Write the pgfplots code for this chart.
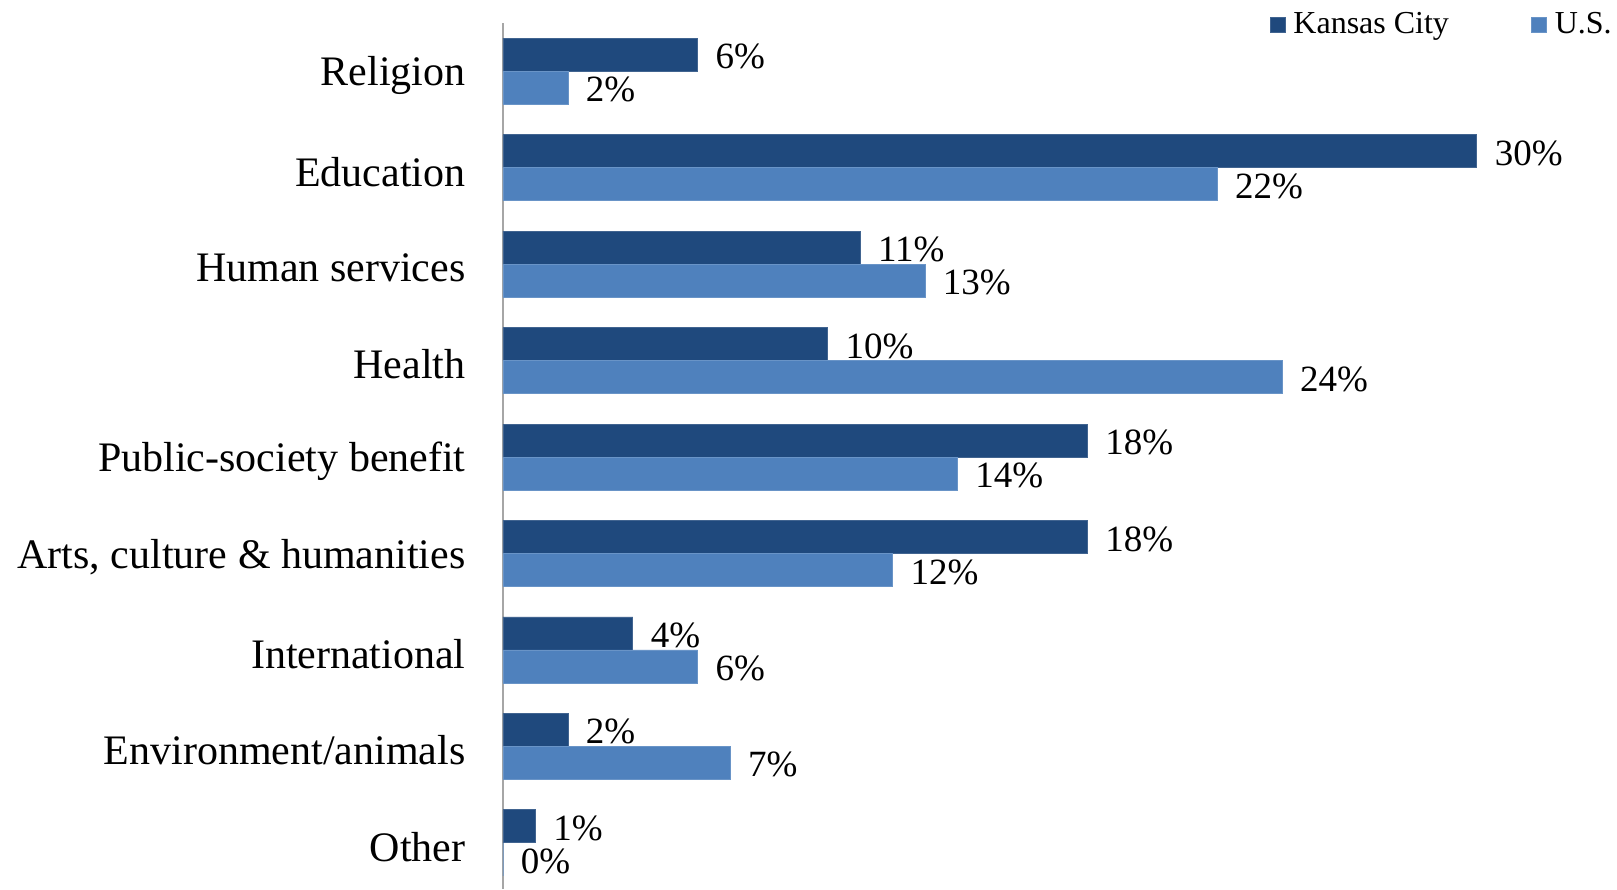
\documentclass[border=0pt]{standalone}
\usepackage{pgfplots}
\pgfplotsset{compat=1.18}
\usepackage{fontspec}
\setmainfont{Liberation Serif}
\definecolor{kcblue}{HTML}{1F497D}
\definecolor{usblue}{HTML}{4F81BD}
\definecolor{axisgray}{HTML}{A6A6A6}

\begin{document}
\begin{tikzpicture}
 \begin{axis}[
   name=ax,
   scale only axis,
   width=557pt, height=433pt,
   xbar, bar width=16.5pt,
   xmin=0, xmax=34.32,
   ymin=-0.479, ymax=8.5,
   axis x line=none,
   axis y line*=left,
   axis line style={axisgray, line width=1pt},
   ytick={0,1,2,3,4,5,6,7,8},
   yticklabels={Other, Environment/animals, International, {Arts, culture \& humanities}, Public-society benefit, Health, Human services, Education, Religion},
   major tick length=0pt,
   yticklabel style={font=\fontsize{21}{25}\selectfont, inner sep=0pt, xshift=-18.5pt, yshift=-2pt},
   /pgf/number format/assume math mode=true,
   nodes near coords={\pgfmathprintnumber{\pgfplotspointmeta}\%},
   every node near coord/.append style={font=\fontsize{18.5}{22}\selectfont, inner sep=0pt, xshift=8.8pt, yshift=-1pt, anchor=west},
   legend columns=2,
   legend style={draw=none, fill=none, at={(0.8453,0.998)}, anchor=center,
     font=\fontsize{16}{19}\selectfont,
     nodes={inner xsep=4pt},
     /tikz/every even column/.append style={column sep=37pt}},
   legend image code/.code={\fill[#1] (0pt,-3.75pt) rectangle (7.5pt,3.75pt);},
  ]
  \addplot [fill=kcblue, draw=kcblue!85!white, bar shift=8.25pt] coordinates {
    (1,0) (2,1) (4,2) (18,3) (18,4) (10,5) (11,6) (30,7) (6,8)};
  \addlegendentry{Kansas City}
  \addplot [fill=usblue, draw=usblue!85!white, bar shift=-8.25pt] coordinates {
    (0,0) (7,1) (6,2) (12,3) (14,4) (24,5) (13,6) (22,7) (2,8)};
  \addlegendentry{U.S.}
 \end{axis}
 \pgfresetboundingbox
 \path (ax.south west) ++(-251.5pt,0pt) rectangle ++(808.5pt,444.5pt);
\end{tikzpicture}
\end{document}
